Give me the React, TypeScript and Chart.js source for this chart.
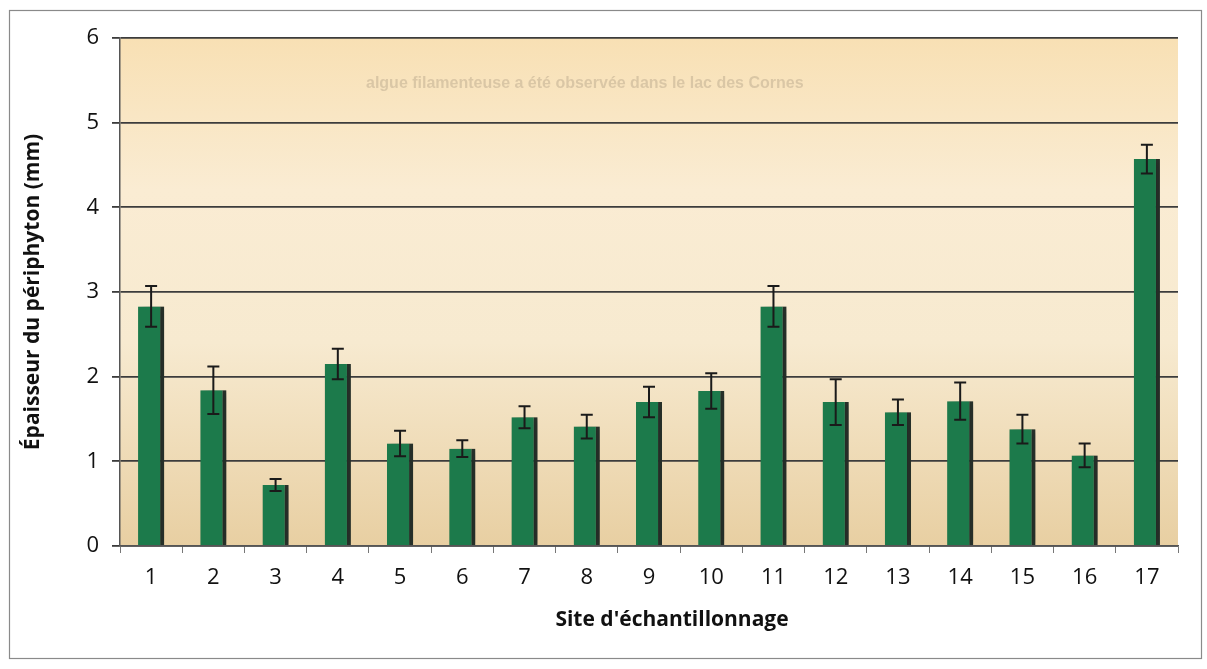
import React, { useEffect, useRef } from "react";
import { Chart, registerables } from "chart.js";

Chart.register(...registerables);

const categories = ["1", "2", "3", "4", "5", "6", "7", "8", "9", "10", "11", "12", "13", "14", "15", "16", "17"];
const thickness = [2.83, 1.84, 0.72, 2.15, 1.21, 1.15, 1.52, 1.41, 1.7, 1.83, 2.83, 1.7, 1.58, 1.71, 1.38, 1.07, 4.57];
const errors = [0.24, 0.28, 0.07, 0.18, 0.15, 0.1, 0.13, 0.14, 0.18, 0.21, 0.24, 0.27, 0.15, 0.22, 0.17, 0.14, 0.17];
const yMin = 0;
const yMax = 6;
const yStep = 1;
const yTitle = "Épaisseur du périphyton (mm)";
const xTitle = "Site d'échantillonnage";
const ghostText = "algue filamenteuse a été observée dans le lac des Cornes";

const W = 1207;
const H = 669;

const backgroundPlugin = {
  id: "bgPlugin",
  beforeDraw(chart: any) {
    const { ctx, chartArea } = chart;
    ctx.save();
    ctx.fillStyle = "#ffffff";
    ctx.fillRect(0, 0, chart.width, chart.height);
    const g = ctx.createLinearGradient(0, chartArea.top, 0, chartArea.bottom);
    g.addColorStop(0, "#f8e0b4");
    g.addColorStop(0.3, "#faecd3");
    g.addColorStop(0.6, "#f7ead0");
    g.addColorStop(1, "#e8cfa2");
    ctx.fillStyle = g;
    ctx.fillRect(chartArea.left, chartArea.top, chartArea.right - chartArea.left, chartArea.bottom - chartArea.top);
    // faint bleed-through text from the scanned page
    ctx.font = "bold 16px 'Liberation Sans', Arial, sans-serif";
    ctx.fillStyle = "rgba(110, 95, 80, 0.22)";
    ctx.textBaseline = "middle";
    ctx.fillText(ghostText, 366, 84);
    // outer frame
    ctx.strokeStyle = "#8a8a8a";
    ctx.lineWidth = 1.2;
    ctx.strokeRect(9.5, 10.5, 1192, 648);
    ctx.restore();
  },
};

const shadowPlugin = {
  id: "shadowPlugin",
  beforeDatasetsDraw(chart: any) {
    const ctx = chart.ctx;
    ctx.save();
    ctx.shadowColor = "rgba(30, 30, 30, 0.55)";
    ctx.shadowBlur = 9;
    ctx.shadowOffsetX = 3;
    ctx.shadowOffsetY = 0;
  },
  afterDatasetsDraw(chart: any) {
    const ctx = chart.ctx;
    ctx.restore();
    const meta = chart.getDatasetMeta(0);
    const y = chart.scales.y;
    ctx.save();
    ctx.strokeStyle = "#1a1a1a";
    ctx.lineWidth = 2;
    meta.data.forEach((bar: any, i: number) => {
      const v = thickness[i];
      const e = errors[i];
      const x = bar.x;
      const yt = y.getPixelForValue(v + e);
      const yb = y.getPixelForValue(v - e);
      const cap = 6;
      ctx.beginPath();
      ctx.moveTo(x, yt);
      ctx.lineTo(x, yb);
      ctx.moveTo(x - cap, yt);
      ctx.lineTo(x + cap, yt);
      ctx.moveTo(x - cap, yb);
      ctx.lineTo(x + cap, yb);
      ctx.stroke();
    });
    ctx.restore();
  },
};

const xTitlePlugin = {
  id: "xTitlePlugin",
  afterDraw(chart: any) {
    const ctx = chart.ctx;
    ctx.save();
    ctx.font = "bold 21px 'Open Sans', sans-serif";
    ctx.fillStyle = "#111111";
    ctx.textAlign = "center";
    ctx.textBaseline = "middle";
    ctx.fillText(xTitle, 672, 620);
    ctx.restore();
  },
};

export default function App() {
  const ref = useRef<HTMLCanvasElement | null>(null);

  useEffect(() => {
    document.body.style.margin = "0";
    const canvas = ref.current;
    if (!canvas) return;
    const chart = new Chart(canvas, {
      type: "bar",
      data: {
        labels: categories,
        datasets: [
          {
            data: thickness,
            backgroundColor: "#1c7a4b",
            borderColor: "#2a362d",
            borderWidth: { top: 0, right: 4, bottom: 0, left: 0 },
            borderSkipped: false,
            categoryPercentage: 1,
            barPercentage: 0.42,
          },
        ],
      },
      options: {
        animation: false,
        responsive: false,
        devicePixelRatio: 1,
        layout: { padding: { left: 10, top: 38, right: 29, bottom: 0 } },
        plugins: {
          legend: { display: false },
          tooltip: { enabled: false },
          title: { display: false },
        },
        scales: {
          x: {
            afterFit(scale: any) {
              scale.height = 123;
            },
            grid: {
              drawOnChartArea: false,
              drawTicks: true,
              tickLength: 7,
              color: "#777777",
              offset: true,
            },
            border: { display: true, color: "#555555", width: 1.5 },
            ticks: {
              color: "#111111",
              font: { family: "'Open Sans', sans-serif", size: 22 },
              padding: 12,
              maxRotation: 0,
            },
          },
          y: {
            min: yMin,
            max: yMax,
            afterFit(scale: any) {
              scale.width = 110;
            },
            ticks: {
              stepSize: yStep,
              color: "#111111",
              font: { family: "'Open Sans', sans-serif", size: 22 },
              padding: 13,
            },
            grid: {
              color: "#3c3c3c",
              lineWidth: 1.8,
              drawTicks: true,
              tickLength: 8,
            },
            border: { display: true, color: "#555555", width: 1.5 },
            title: {
              display: true,
              text: yTitle,
              color: "#111111",
              font: { family: "'Open Sans', sans-serif", size: 21, weight: "bold" },
              padding: { top: 10, bottom: 0 },
            },
          },
        },
      },
      plugins: [backgroundPlugin, shadowPlugin, xTitlePlugin],
    });
    return () => chart.destroy();
  }, []);

  return (
    <div style={{ position: "absolute", left: 0, top: 0, width: W, height: H }}>
      <canvas ref={ref} width={W} height={H} style={{ width: W, height: H, display: "block" }} />
    </div>
  );
}
